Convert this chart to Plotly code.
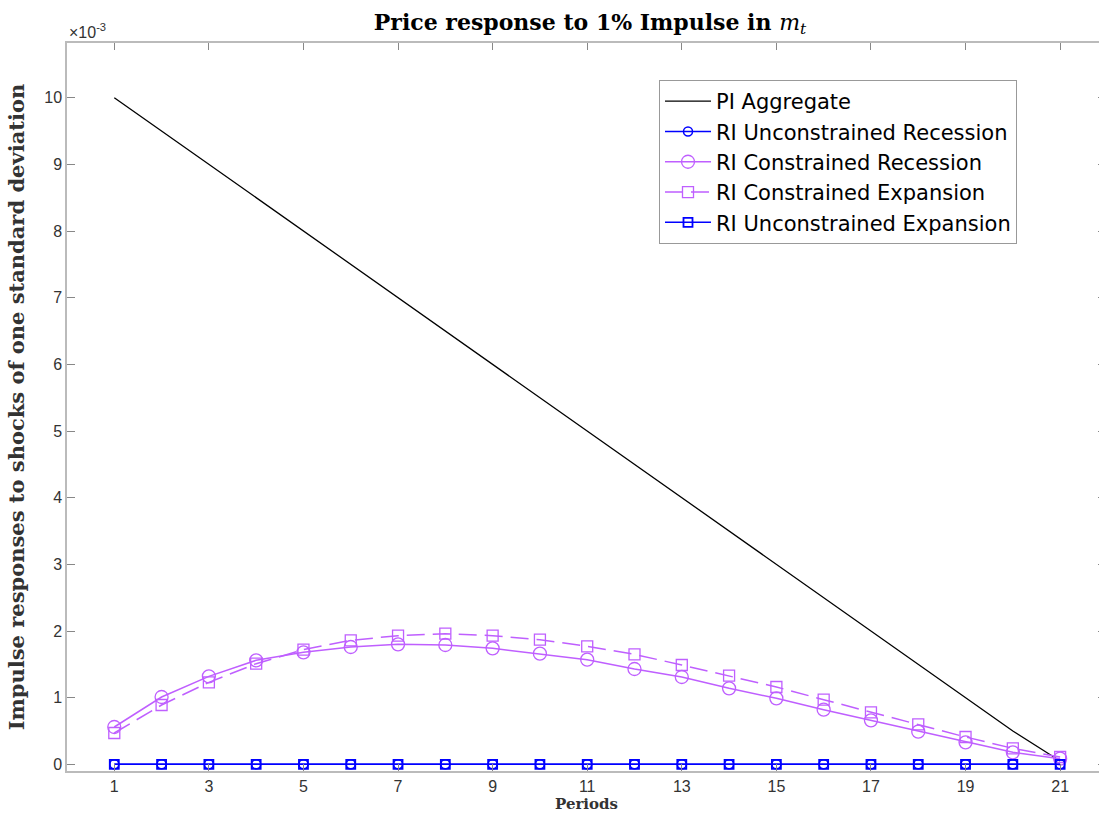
import plotly.graph_objects as go

periods = list(range(1, 22))
pi_aggregate = [10.0, 9.5, 9.0, 8.5, 8.0, 7.5, 7.0, 6.5, 6.0, 5.5, 5.0,
                4.5, 4.0, 3.5, 3.0, 2.5, 2.0, 1.5, 1.0, 0.5, 0.05]
ri_uncon_rec = [0.0] * 21
ri_con_rec = [0.56, 1.01, 1.32, 1.56, 1.68, 1.76, 1.80, 1.79, 1.74, 1.66, 1.57,
              1.43, 1.31, 1.14, 0.99, 0.82, 0.66, 0.49, 0.33, 0.18, 0.085]
ri_con_exp = [0.47, 0.89, 1.23, 1.51, 1.72, 1.86, 1.93, 1.96, 1.93, 1.87, 1.77,
              1.65, 1.49, 1.33, 1.16, 0.97, 0.78, 0.60, 0.41, 0.24, 0.11]
ri_uncon_exp = [0.0] * 21
x_ticks = list(range(1, 22, 2))
y_ticks = list(range(0, 11))

BLUE = "#0000ff"
PURPLE = "#bf5fff"
SERIF = "DejaVu Serif, Liberation Serif, serif"
SANS = "Liberation Sans, Arial, sans-serif"
LEGEND_SANS = "DejaVu Sans, Liberation Sans, sans-serif"

W, H = 1106, 816
L, T, B = 67, 43, 45
PW, PH = W - L, H - T - B

fig = go.Figure()
fig.add_trace(go.Scatter(x=periods, y=pi_aggregate, mode="lines", name="PI Aggregate",
                         line=dict(color="black", width=1.3)))
fig.add_trace(go.Scatter(x=periods, y=ri_uncon_rec, mode="lines+markers",
                         name="RI Unconstrained Recession",
                         line=dict(color=BLUE, width=1.5),
                         marker=dict(symbol="circle-open", size=9, color=BLUE, line=dict(width=1.5))))
fig.add_trace(go.Scatter(x=periods, y=ri_con_rec, mode="lines+markers",
                         name="RI Constrained Recession",
                         line=dict(color=PURPLE, width=1.5),
                         marker=dict(symbol="circle-open", size=13, color=PURPLE, line=dict(width=1.3))))
fig.add_trace(go.Scatter(x=periods, y=ri_con_exp, mode="lines+markers",
                         name="RI Constrained Expansion",
                         line=dict(color=PURPLE, width=1.5, dash="18px,8px"),
                         marker=dict(symbol="square-open", size=11, color=PURPLE, line=dict(width=1.3))))
fig.add_trace(go.Scatter(x=periods, y=ri_uncon_exp, mode="lines+markers",
                         name="RI Unconstrained Expansion",
                         line=dict(color=BLUE, width=1.5),
                         marker=dict(symbol="square-open", size=9, color=BLUE, line=dict(width=1.8))))

fig.update_layout(
    width=W, height=H,
    margin=dict(l=L, r=0, t=T, b=B, autoexpand=False),
    paper_bgcolor="white", plot_bgcolor="white",
    showlegend=True,
    title=dict(text="<b>Price response to 1% Impulse in </b><i>m</i><sub><i>t</i></sub>",
               x=590 / W, xanchor="center", xref="container", y=1 - 22 / H, yanchor="middle",
               font=dict(family=SERIF, size=22, color="black")),
    legend=dict(x=(659 - L) / PW, y=1 - (80 - T) / PH,
                xanchor="left", yanchor="top",
                bordercolor="#999999", borderwidth=1, bgcolor="white",
                font=dict(family=LEGEND_SANS, size=21, color="black"),
                itemwidth=46, tracegroupgap=0),
    xaxis=dict(range=[0, 21.97], tickvals=x_ticks, ticks="inside", ticklen=7,
               tickcolor="#888888", showline=True, linecolor="#bbbbbb", linewidth=1.5,
               mirror="ticks", showgrid=False, zeroline=False, automargin=False,
               tickfont=dict(family=SANS, size=16, color="#333333"),
               title=dict(text="<b>Periods</b>", standoff=4,
                          font=dict(family=SERIF, size=15, color="#333333"))),
    yaxis=dict(range=[-0.1, 10.82], tickvals=y_ticks, ticks="inside", ticklen=8,
               tickcolor="#888888", showline=True, linecolor="#bbbbbb", linewidth=1.5,
               mirror="ticks", showgrid=False, zeroline=False, automargin=False,
               tickfont=dict(family=SANS, size=16, color="#333333"),
               title=dict(text="<b>Impulse responses to shocks of one standard deviation</b>",
                          standoff=14,
                          font=dict(family=SERIF, size=21, color="#333333"))),
)
fig.add_annotation(text="\u00d710<sup>-3</sup>", xref="paper", yref="paper",
                   x=0, y=1.0, xanchor="left", yanchor="bottom", showarrow=False,
                   font=dict(family=SANS, size=16, color="#333333"))
fig.write_html("out.html", config={"displayModeBar": False},
               post_script="document.body.style.margin='0px';document.body.style.overflow='hidden';")
